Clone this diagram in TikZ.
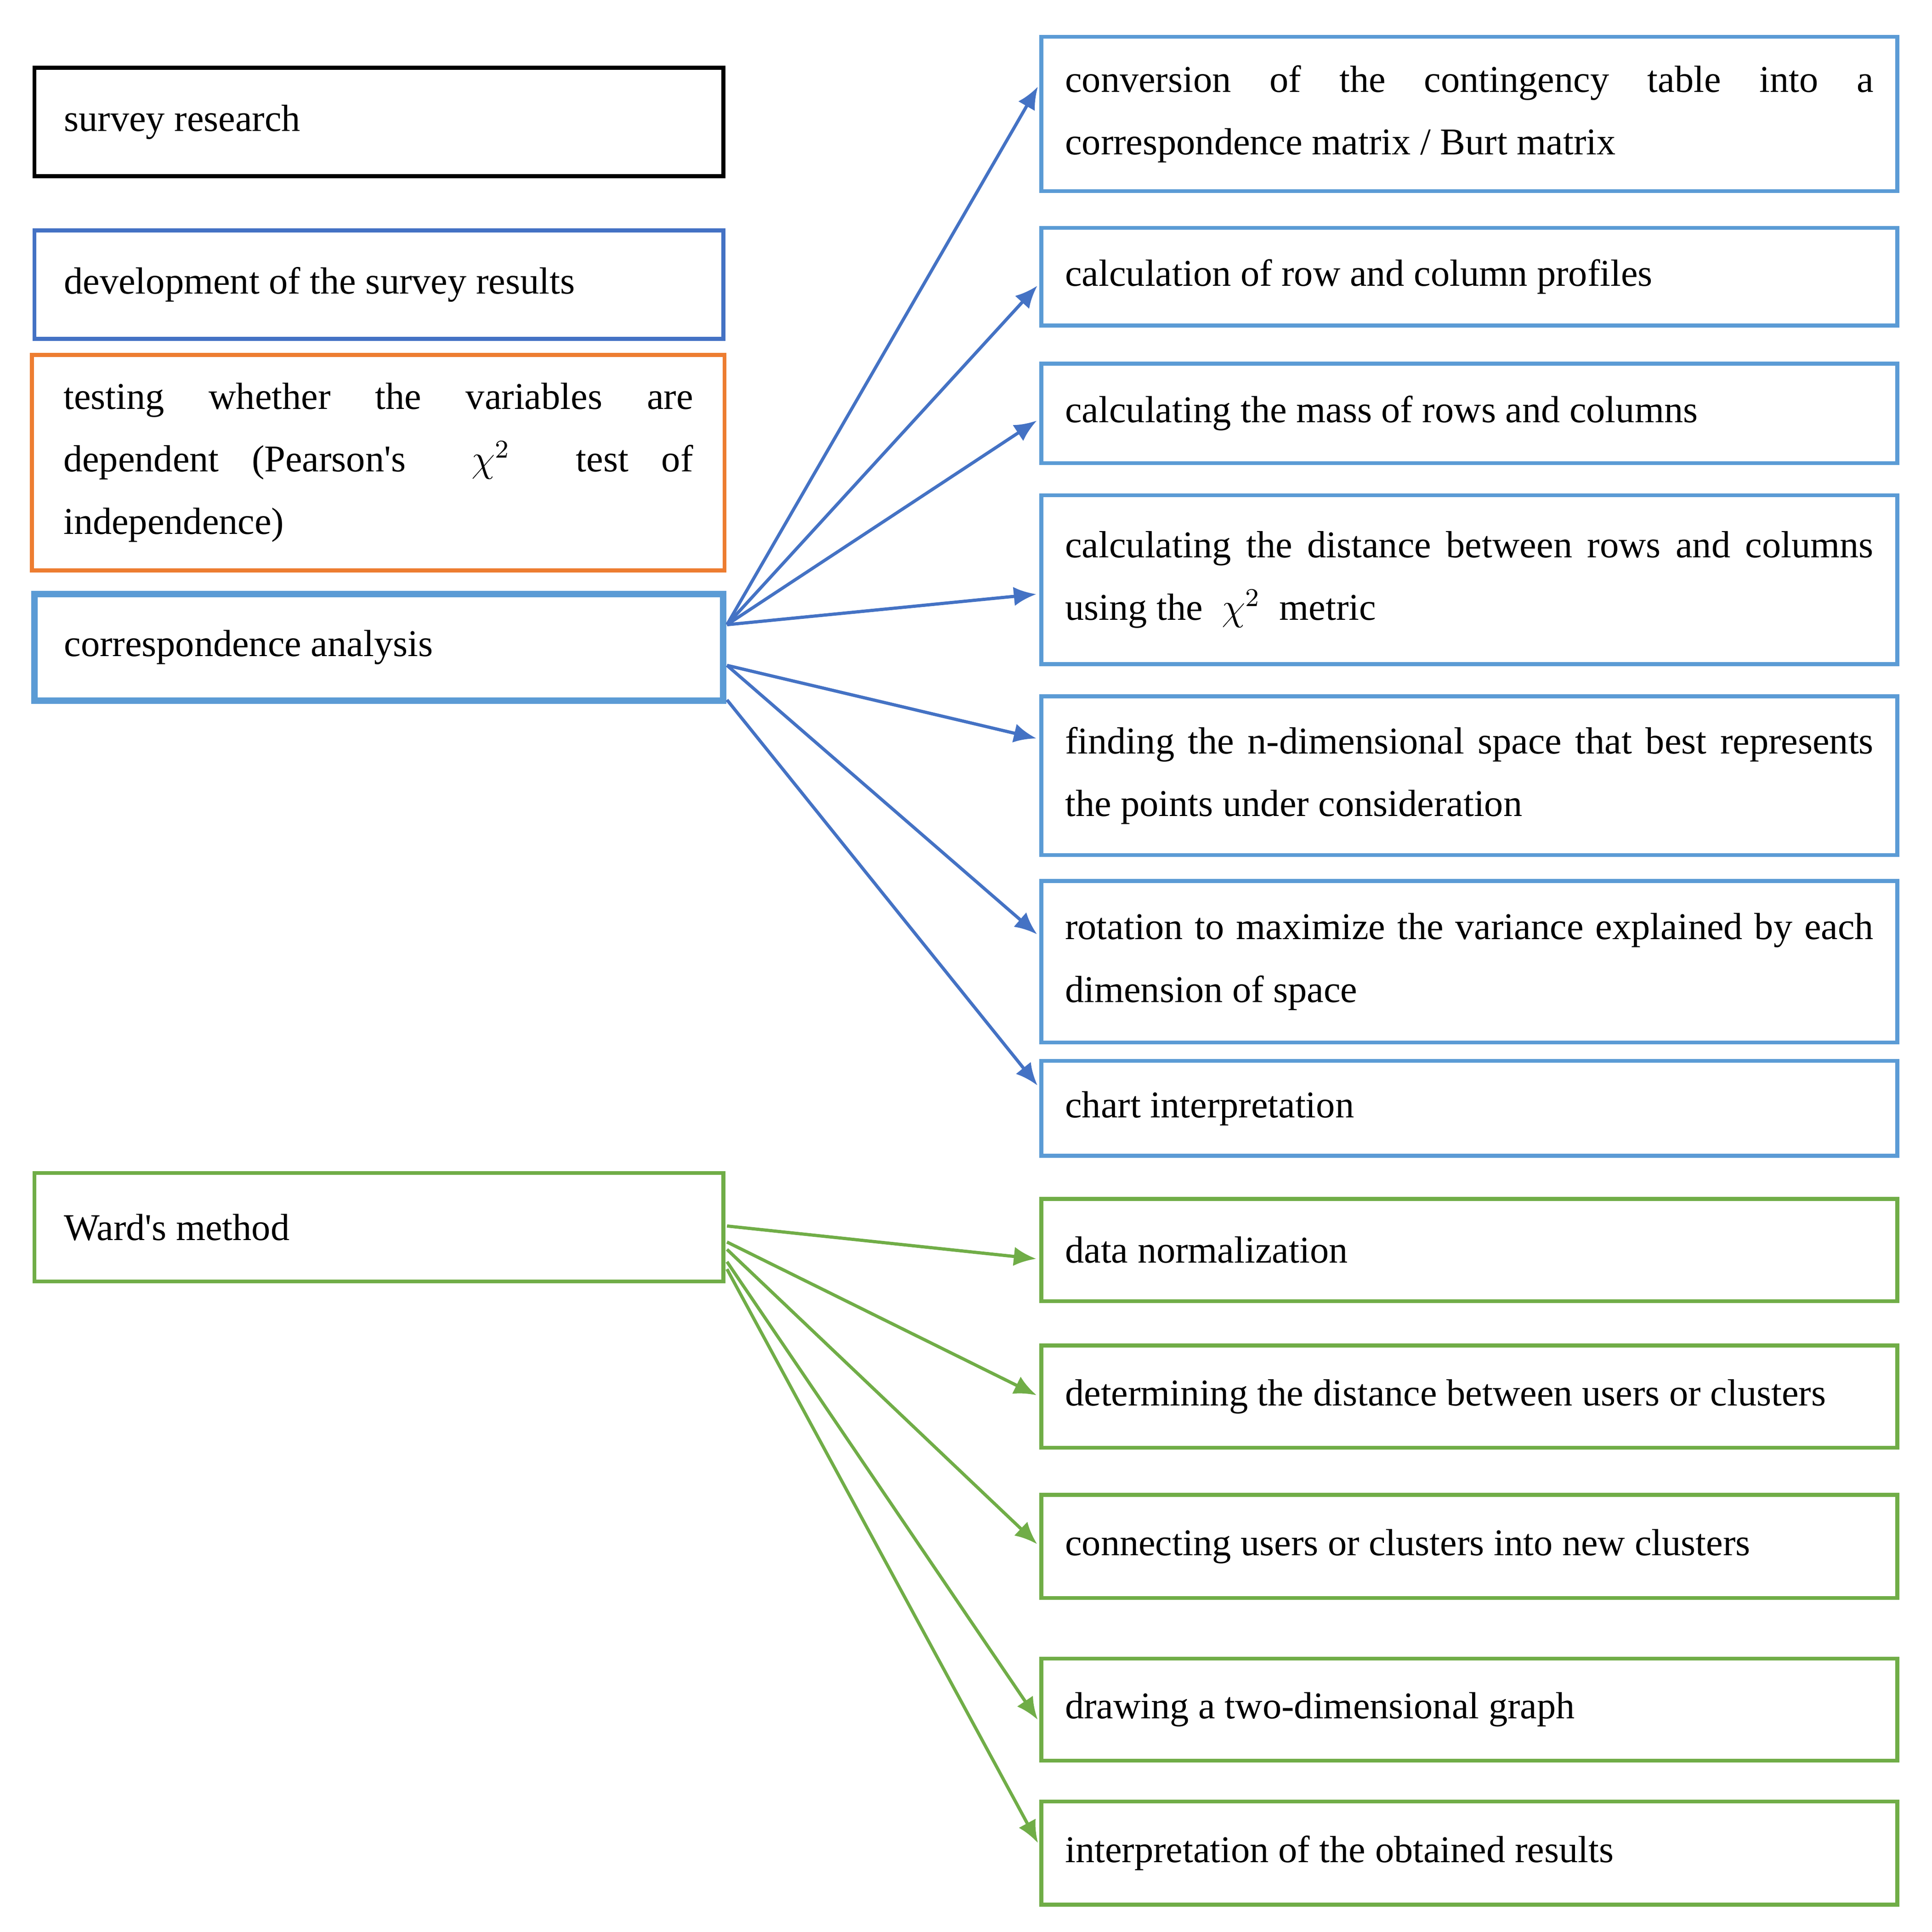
\documentclass[tikz,border=0pt]{standalone}
\usepackage{fontspec}
\setmainfont{Liberation Serif}
\usetikzlibrary{arrows.meta}
\definecolor{cblk}{HTML}{000000}
\definecolor{cdb}{HTML}{4472C4}
\definecolor{cor}{HTML}{ED7D31}
\definecolor{clb}{HTML}{5B9BD5}
\definecolor{cgr}{HTML}{70AD47}
\begin{document}
\begin{tikzpicture}[x=0.0135cm,y=-0.0135cm,
 box/.style={draw, line width=1.2pt, inner sep=0pt, align=justify,
   font=\fontsize{11.8}{19.5}\selectfont,
   execute at begin node={\hyphenpenalty=10000\exhyphenpenalty=10000\relax}},
 L/.style={box, minimum width=7.55cm, text width=6.9cm},
 R/.style={box, minimum width=9.38cm, text width=8.86cm},
 ba/.style={draw=cdb, line width=1pt, -{Latex[length=7pt,width=6pt]}, shorten >=1pt},
 ga/.style={draw=cgr, line width=1pt, -{Latex[length=7pt,width=6pt]}, shorten >=1pt}]
\useasboundingbox (0,0) rectangle (1568,1568);
% left
\node[L, draw=cblk, minimum height=1.19cm] (sr) at (307.5,99) {survey research};
\node[L, draw=cdb, minimum height=1.19cm] (dev) at (307.5,231) {development of the survey results};
\node[L, draw=cor, minimum width=7.59cm, minimum height=2.36cm] (tst) at (307,375.5) {testing whether the variables are\linebreak dependent (Pearson\textquotesingle s \ $\chi^2$ \ test of\linebreak independence)};
\node[L, draw=clb, line width=2pt, minimum height=1.17cm] (ca) at (307.5,525.5) {correspondence analysis};
\node[L, draw=cgr, minimum height=1.19cm] (wm) at (307.5,996) {Ward\textquotesingle s method};
% right blue
\node[R, draw=clb, minimum height=1.69cm] (r1) at (1192.5,92.5) {conversion of the contingency table into a\linebreak correspondence matrix / Burt matrix};
\node[R, draw=clb, minimum height=1.07cm] (r2) at (1192.5,224.5) {calculation of row and column profiles};
\node[R, draw=clb, minimum height=1.09cm] (r3) at (1192.5,335.5) {calculating the mass of rows and columns};
\node[R, draw=clb, minimum height=1.85cm] (r4) at (1192.5,470.5) {calculating the distance between rows and columns\linebreak using the \ $\chi^2$ \ metric};
\node[R, draw=clb, minimum height=1.74cm] (r5) at (1192.5,629.5) {finding the n-dimensional space that best represents\linebreak the points under consideration};
\node[R, draw=clb, minimum height=1.77cm] (r6) at (1192.5,780.5) {rotation to maximize the variance explained by each\linebreak dimension of space};
\node[R, draw=clb, minimum height=1.04cm] (r7) at (1192.5,899.5) {chart interpretation};
% right green
\node[R, draw=cgr, minimum height=1.12cm] (g1) at (1192.5,1014.5) {data normalization};
\node[R, draw=cgr, minimum height=1.12cm] (g2) at (1192.5,1133.5) {determining the distance between users or clusters};
\node[R, draw=cgr, minimum height=1.13cm] (g3) at (1192.5,1255) {connecting users or clusters into new clusters};
\node[R, draw=cgr, minimum height=1.12cm] (g4) at (1192.5,1387.5) {drawing a two-dimensional graph};
\node[R, draw=cgr, minimum height=1.13cm] (g5) at (1192.5,1504) {interpretation of the obtained results};
% start points
\coordinate (s1) at (590,507);
\coordinate (s2) at (590,540);
\coordinate (s3) at (590,568);
\coordinate (t1) at (590,995);
\coordinate (t2) at (590,1008);
\coordinate (t3) at (590,1014);
\coordinate (t4) at (590,1024);
\coordinate (t5) at (590,1030);
% arrows
\draw[ba] (s1) -- ([yshift=0.33cm]r1.west);
\draw[ba] (s1) -- ([yshift=-0.074cm]r2.west);
\draw[ba] (s1) -- ([yshift=-0.06cm]r3.west);
\draw[ba] (s1) -- ([yshift=-0.155cm]r4.west);
\draw[ba] (s2) -- ([yshift=0.40cm]r5.west);
\draw[ba] (s2) -- ([yshift=0.277cm]r6.west);
\draw[ba] (s3) -- ([yshift=0.223cm]r7.west);
\draw[ga] (t1) -- ([yshift=-0.10cm]g1.west);
\draw[ga] (t2) -- (g2.west);
\draw[ga] (t3) -- (g3.west);
\draw[ga] (t4) -- ([yshift=-0.14cm]g4.west);
\draw[ga] (t5) -- ([yshift=0.08cm]g5.west);
\end{tikzpicture}
\end{document}
